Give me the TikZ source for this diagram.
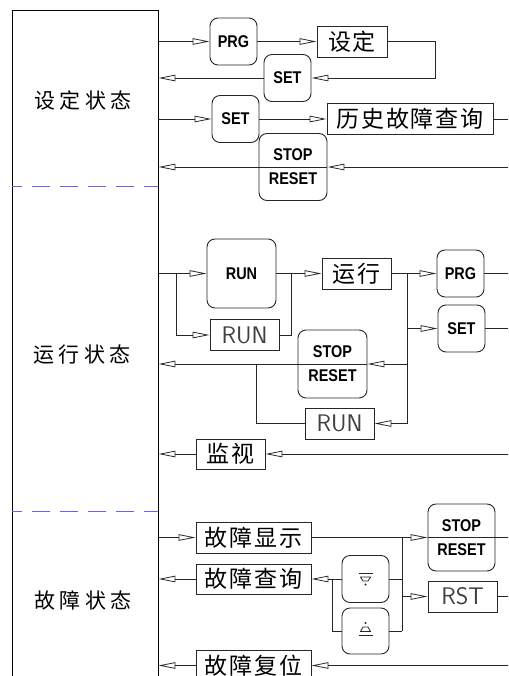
\documentclass[tikz,border=0pt]{standalone}
\usepackage{fontspec}
\newfontfamily\cjk[LetterSpace=8]{Noto Sans CJK SC}
\newfontfamily\cjkl[LetterSpace=22]{Noto Sans CJK SC}
\newfontfamily\btn[FakeStretch=0.85]{Liberation Sans}
\usetikzlibrary{arrows.meta}
\definecolor{sepblue}{RGB}{100,100,250}
\begin{document}
\begin{tikzpicture}[x=1pt,y=-1pt,
  flow/.style={draw=black!85, line width=0.8pt},
  arr/.style={flow, -{Triangle[open, length=17pt, width=6.5pt]}},
  keybox/.style={draw=black!85, line width=0.9pt, rounded corners=8pt, inner sep=0pt,
    minimum width=47pt, minimum height=47pt, align=center,
    font=\btn\bfseries\fontsize{17}{24}\selectfont},
  lbl/.style={draw=black!85, line width=0.9pt, inner sep=0pt, minimum height=31pt,
    font=\cjk\fontsize{23}{25}\selectfont},
  thinbox/.style={draw=black!85, line width=0.9pt, inner sep=0pt, minimum height=31pt,
    minimum width=69pt, text=black!75, font=\sffamily\fontsize{24}{26}\selectfont},
  statelbl/.style={inner sep=0pt, font=\cjkl\fontsize{21}{23}\selectfont},
  sepline/.style={draw=sepblue, line width=0.9pt, dash pattern=on 18pt off 10pt, dash phase=8pt},
  panelbox/.style={draw=black, line width=0.9pt, minimum width=146pt, minimum height=680pt, inner sep=0pt}
]
\useasboundingbox (0,0) rectangle (508,676);

% left panel
\node[panelbox] (panel) at (85,350) {};
\draw[sepline] (12,186) -- (158,186);
\draw[sepline] (12,511) -- (158,511);
\node[statelbl] (s1) at (83,100) {设定状态};
\node[statelbl] (s2) at (82,355) {运行状态};
\node[statelbl] (s3) at (83,600) {故障状态};

% ---------- setting section ----------
\node[keybox] (prg1) at (233.5,41.5) {PRG};
\node[lbl, minimum width=70pt] (sd) at (352,41.5) {设定};
\node[keybox] (set1) at (287.5,78) {SET};
\node[keybox] (set2) at (235.5,119) {SET};
\node[lbl, minimum width=166pt] (hist) at (410,119) {历史故障查询};
\node[keybox, minimum width=68pt, minimum height=67pt] (sr1) at (293,167) {STOP\\RESET};

\coordinate (eC) at (508,119);
\coordinate (eD) at (508,167);
\coordinate (t1) at (435,41.5);

\draw[arr] (panel.east |- prg1.west) -- (prg1.west);
\draw[arr] (prg1.east) -- (sd.west);
\draw[arr] (sd.east) -- (t1) |- (set1.east);
\draw[arr] (set1.west) -- (panel.east |- set1.west);
\draw[arr] (panel.east |- set2.west) -- (set2.west);
\draw[arr] (set2.east) -- (hist.west);
\draw[flow] (hist.east) -- (eC);
\draw[arr] (eD) -- (sr1.east);
\draw[arr] (sr1.east) -- (panel.east |- sr1.east);

% ---------- run section ----------
\node[keybox, minimum width=69pt, minimum height=69pt] (runb) at (241.5,273.5) {RUN};
\node[thinbox] (runs1) at (244.5,335) {RUN};
\node[lbl, minimum width=69pt] (yx) at (356.5,273.5) {运行};
\node[keybox] (prg2) at (460.5,273.5) {PRG};
\node[keybox] (set3) at (461.5,328.5) {SET};
\node[keybox, minimum width=69pt, minimum height=68pt] (sr2) at (332.5,364) {STOP\\RESET};
\node[thinbox] (runs2) at (339.5,423.5) {RUN};
\node[lbl, minimum width=69pt, minimum height=30pt] (jk) at (230.5,454) {监视};

\coordinate (j1) at (176,273.5);
\coordinate (j2) at (291,273.5);
\coordinate (j3) at (407,273.5);
\coordinate (j4) at (407,423.5);
\coordinate (j5) at (256,364);
\coordinate (eP) at (508,273.5);
\coordinate (eS) at (508,328.5);
\coordinate (eM) at (508,454);

\draw[arr] (panel.east |- runb.west) -- (runb.west);
\draw[arr] (j1) |- (runs1.west);
\draw[flow] (runs1.east) -| (j2);
\draw[arr] (runb.east) -- (yx.west);
\draw[arr] (yx.east) -- (prg2.west);
\draw[flow] (j3) -- (j4);
\draw[arr] (j3 |- set3.west) -- (set3.west);
\draw[arr] (j3 |- sr2.east) -- (sr2.east);
\draw[arr] (sr2.east) -- (panel.east |- sr2.east);
\draw[flow] (j5) |- (runs2.west);
\draw[arr] (j4) -- (runs2.east);
\draw[flow] (prg2.east) -- (eP);
\draw[flow] (set3.east) -- (eS);
\draw[arr] (eM) -- (jk.east);
\draw[arr] (jk.west) -- (panel.east |- jk.west);

% ---------- fault section ----------
\node[lbl, minimum width=115pt] (gx) at (253.5,537.5) {故障显示};
\node[keybox, minimum width=67pt, minimum height=67pt] (sr3) at (461.5,537.5) {STOP\\RESET};
\node[thinbox] (rst) at (462.5,596.5) {RST};
\node[lbl, minimum width=115pt, minimum height=30pt] (gc) at (253.5,579) {故障查询};
\node[keybox] (dn) at (365.5,579) {};
\node[keybox, minimum height=46pt] (up) at (365.5,631) {};
\node[lbl, minimum width=115pt] (gf) at (253.5,665.5) {故障复位};

% symbols in the two keys
\draw[line width=0.8pt, black!85] ([shift={(-7,-6)}]dn.center) -- ++(14,0);
\draw[line width=0.8pt, black!85] ([shift={(-5,-2)}]dn.center) -- ++(10,0) -- ++(-2.5,4) -- ++(-5,0) -- cycle;
\fill[black!85] ([shift={(0,5.5)}]dn.center) circle (1.1pt);
\fill[black!85] ([shift={(0,-8)}]up.center) circle (1.1pt);
\draw[line width=0.8pt, black!85] ([shift={(-2.5,-4)}]up.center) -- ++(5,0) -- ++(2.5,4.5) -- ++(-10,0) -- cycle;
\draw[line width=0.8pt, black!85] ([shift={(-7,4.5)}]up.center) -- ++(14,0);

\coordinate (k1) at (402,537.5);
\coordinate (k2) at (402,631);
\coordinate (k3) at (332,579);
\coordinate (eX) at (508,537.5);
\coordinate (eR) at (508,596.5);
\coordinate (eF) at (508,665.5);

\draw[arr] (panel.east |- gx.west) -- (gx.west);
\draw[arr] (gx.east) -- (sr3.west);
\draw[flow] (sr3.west) -- (eX);
\draw[flow] (k1) -- (k2);
\draw[arr] (k1 |- rst.west) -- (rst.west);
\draw[flow] (rst.east) -- (eR);
\draw[flow] (dn.east) -- (k1 |- dn.east);
\draw[flow] (up.east) -- (k2);
\draw[arr] (dn.west) -- (gc.east);
\draw[flow] (k3) |- (up.west);
\draw[arr] (gc.west) -- (panel.east |- gc.west);
\draw[arr] (eF) -- (gf.east);
\draw[arr] (gf.west) -- (panel.east |- gf.west);
\end{tikzpicture}
\end{document}
